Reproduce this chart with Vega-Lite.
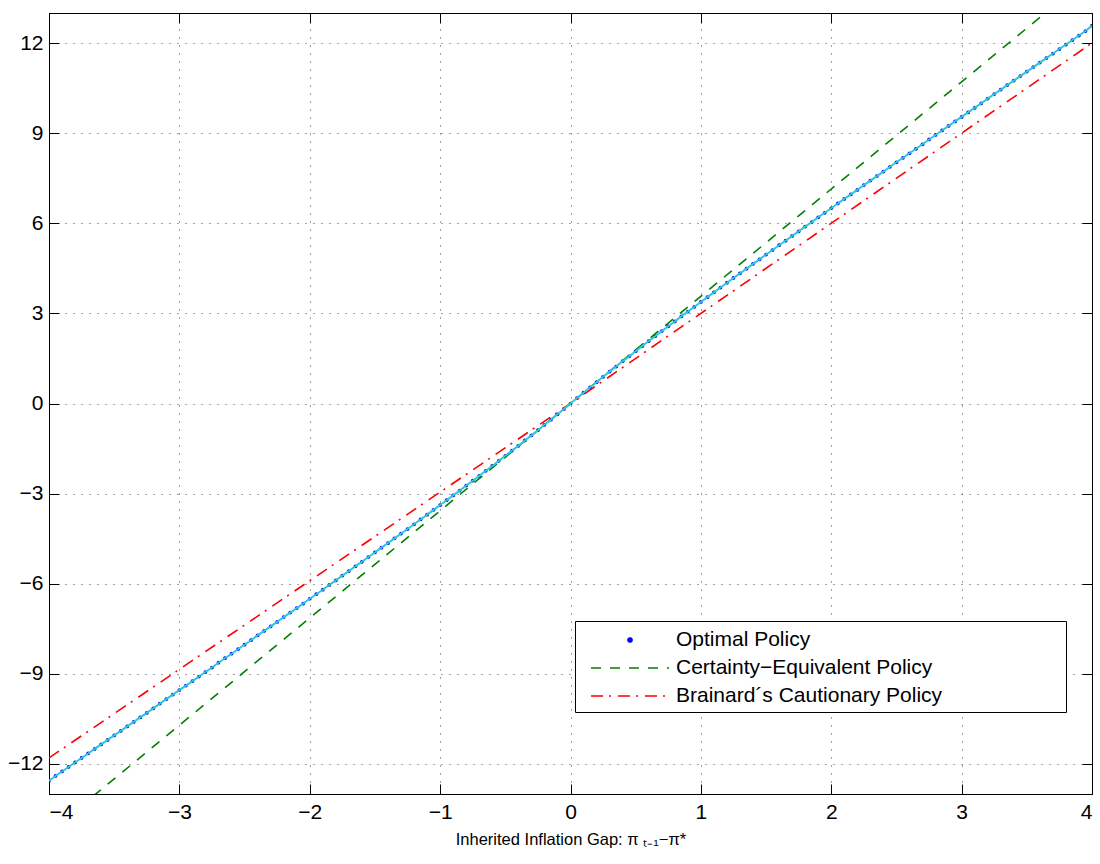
{
  "$schema": "https://vega.github.io/schema/vega-lite/v6.json",
  "width": 1043,
  "height": 781,
  "autosize": {"type": "none"},
  "padding": {"left": 49, "top": 13, "right": 8, "bottom": 70},
  "background": "white",
  "config": {
    "view": {"stroke": "black", "strokeWidth": 1},
    "font": "Liberation Sans",
    "axis": {"labelFont": "Liberation Sans", "titleFont": "Liberation Sans", "labelColor": "black", "titleColor": "black", "domainColor": "black", "tickColor": "black"}
  },
  "datasets": {
    "opt": [
      {"x": -4.00, "y": -12.56}, {"x": -3.95, "y": -12.40}, {"x": -3.90, "y": -12.25}, {"x": -3.85, "y": -12.10}, {"x": -3.80, "y": -11.95},
      {"x": -3.75, "y": -11.80}, {"x": -3.70, "y": -11.65}, {"x": -3.65, "y": -11.50}, {"x": -3.60, "y": -11.35}, {"x": -3.55, "y": -11.20},
      {"x": -3.50, "y": -11.05}, {"x": -3.45, "y": -10.90}, {"x": -3.40, "y": -10.75}, {"x": -3.35, "y": -10.60}, {"x": -3.30, "y": -10.45},
      {"x": -3.25, "y": -10.30}, {"x": -3.20, "y": -10.15}, {"x": -3.15, "y": -9.99}, {"x": -3.10, "y": -9.84}, {"x": -3.05, "y": -9.69},
      {"x": -3.00, "y": -9.54}, {"x": -2.95, "y": -9.39}, {"x": -2.90, "y": -9.24}, {"x": -2.85, "y": -9.09}, {"x": -2.80, "y": -8.94},
      {"x": -2.75, "y": -8.79}, {"x": -2.70, "y": -8.63}, {"x": -2.65, "y": -8.48}, {"x": -2.60, "y": -8.33}, {"x": -2.55, "y": -8.18},
      {"x": -2.50, "y": -8.03}, {"x": -2.45, "y": -7.88}, {"x": -2.40, "y": -7.72}, {"x": -2.35, "y": -7.57}, {"x": -2.30, "y": -7.42},
      {"x": -2.25, "y": -7.27}, {"x": -2.20, "y": -7.11}, {"x": -2.15, "y": -6.96}, {"x": -2.10, "y": -6.81}, {"x": -2.05, "y": -6.66},
      {"x": -2.00, "y": -6.50}, {"x": -1.95, "y": -6.35}, {"x": -1.90, "y": -6.20}, {"x": -1.85, "y": -6.04}, {"x": -1.80, "y": -5.89},
      {"x": -1.75, "y": -5.73}, {"x": -1.70, "y": -5.58}, {"x": -1.65, "y": -5.42}, {"x": -1.60, "y": -5.27}, {"x": -1.55, "y": -5.11},
      {"x": -1.50, "y": -4.96}, {"x": -1.45, "y": -4.80}, {"x": -1.40, "y": -4.65}, {"x": -1.35, "y": -4.49}, {"x": -1.30, "y": -4.33},
      {"x": -1.25, "y": -4.18}, {"x": -1.20, "y": -4.02}, {"x": -1.15, "y": -3.86}, {"x": -1.10, "y": -3.70}, {"x": -1.05, "y": -3.54},
      {"x": -1.00, "y": -3.38}, {"x": -0.95, "y": -3.22}, {"x": -0.90, "y": -3.06}, {"x": -0.85, "y": -2.90}, {"x": -0.80, "y": -2.73},
      {"x": -0.75, "y": -2.57}, {"x": -0.70, "y": -2.41}, {"x": -0.65, "y": -2.24}, {"x": -0.60, "y": -2.08}, {"x": -0.55, "y": -1.91},
      {"x": -0.50, "y": -1.74}, {"x": -0.45, "y": -1.57}, {"x": -0.40, "y": -1.41}, {"x": -0.35, "y": -1.23}, {"x": -0.30, "y": -1.06},
      {"x": -0.25, "y": -0.89}, {"x": -0.20, "y": -0.71}, {"x": -0.15, "y": -0.54}, {"x": -0.10, "y": -0.36}, {"x": -0.05, "y": -0.18},
      {"x": 0.00, "y": 0.00},
      {"x": 0.05, "y": 0.18}, {"x": 0.10, "y": 0.36}, {"x": 0.15, "y": 0.54}, {"x": 0.20, "y": 0.71}, {"x": 0.25, "y": 0.89},
      {"x": 0.30, "y": 1.06}, {"x": 0.35, "y": 1.23}, {"x": 0.40, "y": 1.41}, {"x": 0.45, "y": 1.57}, {"x": 0.50, "y": 1.74},
      {"x": 0.55, "y": 1.91}, {"x": 0.60, "y": 2.08}, {"x": 0.65, "y": 2.24}, {"x": 0.70, "y": 2.41}, {"x": 0.75, "y": 2.57},
      {"x": 0.80, "y": 2.73}, {"x": 0.85, "y": 2.90}, {"x": 0.90, "y": 3.06}, {"x": 0.95, "y": 3.22}, {"x": 1.00, "y": 3.38},
      {"x": 1.05, "y": 3.54}, {"x": 1.10, "y": 3.70}, {"x": 1.15, "y": 3.86}, {"x": 1.20, "y": 4.02}, {"x": 1.25, "y": 4.18},
      {"x": 1.30, "y": 4.33}, {"x": 1.35, "y": 4.49}, {"x": 1.40, "y": 4.65}, {"x": 1.45, "y": 4.80}, {"x": 1.50, "y": 4.96},
      {"x": 1.55, "y": 5.11}, {"x": 1.60, "y": 5.27}, {"x": 1.65, "y": 5.42}, {"x": 1.70, "y": 5.58}, {"x": 1.75, "y": 5.73},
      {"x": 1.80, "y": 5.89}, {"x": 1.85, "y": 6.04}, {"x": 1.90, "y": 6.20}, {"x": 1.95, "y": 6.35}, {"x": 2.00, "y": 6.50},
      {"x": 2.05, "y": 6.66}, {"x": 2.10, "y": 6.81}, {"x": 2.15, "y": 6.96}, {"x": 2.20, "y": 7.11}, {"x": 2.25, "y": 7.27},
      {"x": 2.30, "y": 7.42}, {"x": 2.35, "y": 7.57}, {"x": 2.40, "y": 7.72}, {"x": 2.45, "y": 7.88}, {"x": 2.50, "y": 8.03},
      {"x": 2.55, "y": 8.18}, {"x": 2.60, "y": 8.33}, {"x": 2.65, "y": 8.48}, {"x": 2.70, "y": 8.63}, {"x": 2.75, "y": 8.79},
      {"x": 2.80, "y": 8.94}, {"x": 2.85, "y": 9.09}, {"x": 2.90, "y": 9.24}, {"x": 2.95, "y": 9.39}, {"x": 3.00, "y": 9.54},
      {"x": 3.05, "y": 9.69}, {"x": 3.10, "y": 9.84}, {"x": 3.15, "y": 9.99}, {"x": 3.20, "y": 10.15}, {"x": 3.25, "y": 10.30},
      {"x": 3.30, "y": 10.45}, {"x": 3.35, "y": 10.60}, {"x": 3.40, "y": 10.75}, {"x": 3.45, "y": 10.90}, {"x": 3.50, "y": 11.05},
      {"x": 3.55, "y": 11.20}, {"x": 3.60, "y": 11.35}, {"x": 3.65, "y": 11.50}, {"x": 3.70, "y": 11.65}, {"x": 3.75, "y": 11.80},
      {"x": 3.80, "y": 11.95}, {"x": 3.85, "y": 12.10}, {"x": 3.90, "y": 12.25}, {"x": 3.95, "y": 12.40}, {"x": 4.00, "y": 12.58}
    ],
    "pol": [
      {"x": -4, "y": -14.28, "s": "Certainty−Equivalent Policy"},
      {"x": 4, "y": 14.28, "s": "Certainty−Equivalent Policy"},
      {"x": -4, "y": -11.8, "s": "Brainard´s Cautionary Policy"},
      {"x": 0, "y": 0, "s": "Brainard´s Cautionary Policy"},
      {"x": 4, "y": 12.0, "s": "Brainard´s Cautionary Policy"}
    ]
  },
  "layer": [
    {
      "mark": {"type": "rule", "color": "#a020a0", "strokeWidth": 1},
      "encoding": {
        "y": {"datum": 0, "type": "quantitative", "scale": {"domain": [-13, 13], "nice": false, "zero": false}, "axis": null}
      }
    },
    {
      "data": {"name": "opt"},
      "mark": {"type": "point", "filled": true, "color": "#0000ff", "size": 14, "opacity": 1, "clip": true},
      "encoding": {
        "x": {"field": "x", "type": "quantitative", "scale": {"domain": [-4, 4], "nice": false, "zero": false},
          "axis": {"orient": "bottom", "values": [-4, -3, -2, -1, 0, 1, 2, 3, 4], "grid": true, "gridDash": [1, 7], "gridColor": "#444", "ticks": false, "labelPadding": 7, "labelBaseline": "top", "labelFontSize": 21, "title": "Inherited Inflation Gap: π ₜ₋₁−π*", "titleFontSize": 16.5, "titleFontWeight": "normal", "titlePadding": 9, "domain": true}},
        "y": {"field": "y", "type": "quantitative", "scale": {"domain": [-13, 13], "nice": false, "zero": false},
          "axis": {"orient": "left", "values": [-12, -9, -6, -3, 0, 3, 6, 9, 12], "grid": true, "gridDash": [1, 7], "gridColor": "#444", "ticks": false, "labelPadding": 6, "labelFontSize": 21, "title": null, "domain": true}}
      }
    },
    {
      "data": {"name": "pol"},
      "mark": {"type": "line", "strokeWidth": 1.6, "clip": true},
      "encoding": {
        "x": {"field": "x", "type": "quantitative",
          "axis": {"orient": "bottom", "values": [-4, -3, -2, -1, 0, 1, 2, 3, 4], "labels": false, "grid": false, "tickSize": -10, "title": null, "domain": false}},
        "y": {"field": "y", "type": "quantitative",
          "axis": {"orient": "left", "values": [-12, -9, -6, -3, 0, 3, 6, 9, 12], "labels": false, "grid": false, "tickSize": -10, "title": null, "domain": false}},
        "color": {"field": "s", "type": "nominal",
          "scale": {"domain": ["Optimal Policy", "Certainty−Equivalent Policy", "Brainard´s Cautionary Policy"], "range": ["#0000ff", "#008000", "#ff0000"]},
          "legend": {
            "title": " ", "titleOrient": "right", "titlePadding": 118, "titleFontSize": 10,
            "orient": "none", "legendX": 526, "legendY": 608,
            "strokeColor": "black", "fillColor": "white", "padding": 6,
            "symbolType": "M-1,0H5.5", "symbolSize": 576, "symbolStrokeWidth": 1.6, "symbolOffset": 9,
            "labelFont": "Liberation Sans", "labelFontSize": 21, "labelColor": "black", "labelOffset": 60, "rowPadding": 5, "labelLimit": 400,
            "encode": {"symbols": {"update": {
              "shape": {"signal": "datum.value === 'Optimal Policy' ? 'M2.42,0A0.17,0.17,0,1,1,2.08,0A0.17,0.17,0,1,1,2.42,0Z' : 'M-1,0H5.5'"},
              "fill": {"signal": "datum.value === 'Optimal Policy' ? '#0000ff' : 'transparent'"}
            }}}
          }},
        "strokeDash": {"field": "s", "type": "nominal",
          "scale": {"domain": ["Optimal Policy", "Certainty−Equivalent Policy", "Brainard´s Cautionary Policy"], "range": [[1, 0], [10, 9], [12, 6, 2, 7]]},
          "legend": null}
      }
    },
    {
      "data": {"name": "opt"},
      "mark": {"type": "line", "color": "#2ec8d8", "strokeWidth": 2, "clip": true},
      "encoding": {
        "x": {"field": "x", "type": "quantitative",
          "axis": {"orient": "top", "values": [-4, -3, -2, -1, 0, 1, 2, 3, 4], "labels": false, "grid": false, "tickSize": -10, "title": null, "domain": true}},
        "y": {"field": "y", "type": "quantitative",
          "axis": {"orient": "right", "values": [-12, -9, -6, -3, 0, 3, 6, 9, 12], "labels": false, "grid": false, "tickSize": -10, "title": null, "domain": true}}
      }
    }
  ],
  "resolve": {"axis": {"x": "independent", "y": "independent"}}
}
